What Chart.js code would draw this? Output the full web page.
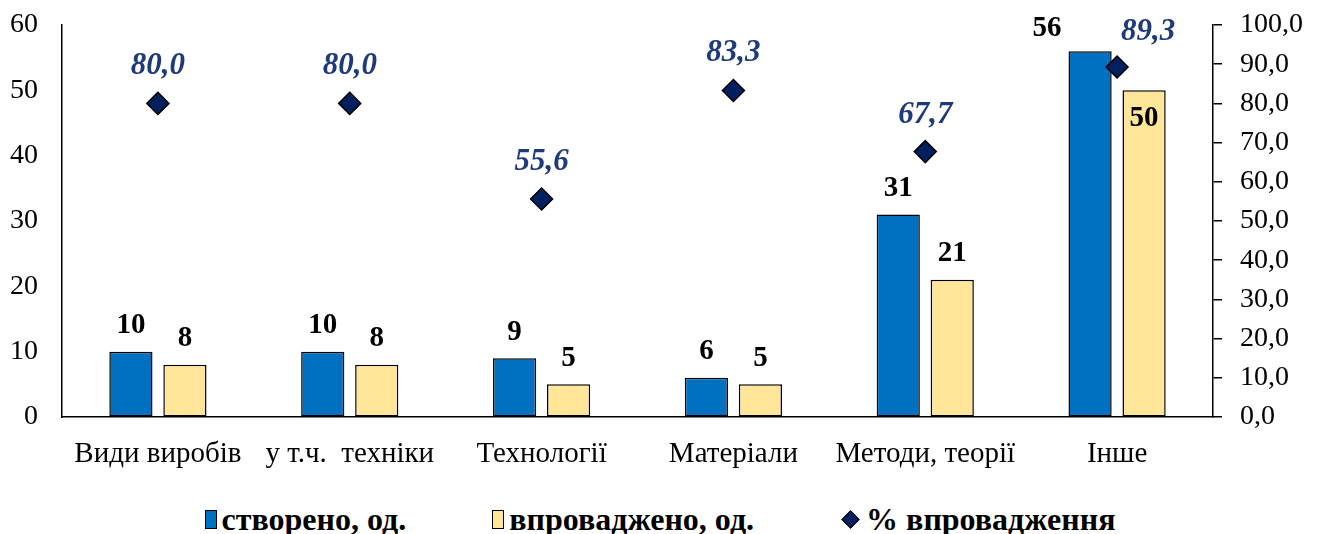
<!DOCTYPE html>
<html>
<head>
<meta charset="utf-8">
<script src="https://cdn.jsdelivr.net/npm/chart.js@4"></script>
<style>
  html, body { margin: 0; padding: 0; background: #fff; }
  #wrap { position: relative; width: 1320px; height: 490px; }
  #legend {
    width: 1320px; height: 44px; box-sizing: border-box; padding-top: 14px;
    display: flex; justify-content: center; align-items: center; gap: 86px;
    font: bold 32px "Liberation Serif", "Times New Roman", serif; color: #000;
  }
  #legend span.item { display: flex; align-items: center; }
  #legend i { display: inline-block; box-sizing: border-box; margin-right: 5px; }
  #legend i.box { width: 12px; height: 19px; border: 1.5px solid #000; }
  #legend i.dia { width: 13px; height: 13px; border: 1.5px solid #000; transform: rotate(45deg); margin: 0 9px 0 4px; }
</style>
</head>
<body>
<div id="wrap"><canvas id="chart" width="1320" height="490"></canvas></div>
<div id="legend"></div>
<script>
const CATEGORIES = ['Види виробів', 'у т.ч.  техніки', 'Технології', 'Матеріали', 'Методи, теорії', 'Інше'];
const CREATED = [10, 10, 9, 6, 31, 56];
const IMPLEMENTED = [8, 8, 5, 5, 21, 50];
const SHARE = [80.0, 80.0, 55.6, 83.3, 67.7, 89.3];
const LEFT_TICKS = [0, 60, 10];   // min, max, step
const RIGHT_TICKS = [0, 100, 10];

const SERIES_NAMES = ['створено, од.', 'впроваджено, од.', '% впровадження'];
const BLUE = '#0070C0', YELLOW = '#FFE699', NAVY = '#002060', LABEL_NAVY = '#1F3A7A';
const FONT = '"Liberation Serif", "Times New Roman", serif';

const fmtComma = v => Number(v).toFixed(1).replace('.', ',');

// Excel moved a few labels by hand in the last group so they don't collide.
const NUDGE = {
  0: {5: {dx: -43, dy: 3}},          // "56" pushed left
  1: {5: {dx: 0, dy: 54}},           // "50" sits inside the bar
  2: {5: {dx: 31, dy: 2}},           // "89,3" pushed right
};

const valueLabels = {
  id: 'valueLabels',
  afterDatasetsDraw(chart) {
    const ctx = chart.ctx;
    ctx.save();
    ctx.textAlign = 'center';
    ctx.textBaseline = 'middle';
    chart.data.datasets.forEach((ds, di) => {
      const meta = chart.getDatasetMeta(di);
      meta.data.forEach((el, i) => {
        const n = (NUDGE[di] && NUDGE[di][i]) || {dx: 0, dy: 0};
        if (ds.type === 'line') {
          ctx.font = `italic bold 31px ${FONT}`;
          ctx.fillStyle = LABEL_NAVY;
          ctx.fillText(fmtComma(ds.data[i]), el.x + n.dx, el.y - 37 + n.dy);
        } else {
          ctx.font = `bold 29px ${FONT}`;
          ctx.fillStyle = '#000';
          ctx.fillText(String(ds.data[i]), el.x + n.dx, el.y - 26 + n.dy);
        }
      });
    });
    ctx.restore();
  }
};

const tickFont = {family: FONT, size: 28};

// tick padding also pads the top of the chart area; drop that so the
// plot reaches up to layout.padding.top like Excel's does
function fitY(width) {
  return s => { s.width = width; s.paddingTop = 0; };
}

new Chart(document.getElementById('chart'), {
  type: 'bar',
  data: {
    labels: CATEGORIES,
    datasets: [
      {label: SERIES_NAMES[0], data: CREATED, backgroundColor: BLUE, borderColor: '#000',
       borderWidth: 1.5, borderSkipped: false, yAxisID: 'y', order: 1,
       categoryPercentage: 0.563, barPercentage: 0.8},
      {label: SERIES_NAMES[1], data: IMPLEMENTED, backgroundColor: YELLOW, borderColor: '#000',
       borderWidth: 1.5, borderSkipped: false, yAxisID: 'y', order: 1,
       categoryPercentage: 0.563, barPercentage: 0.8},
      {type: 'line', label: SERIES_NAMES[2], data: SHARE, yAxisID: 'y1', order: 0,
       showLine: false, pointStyle: 'rectRot', pointRadius: 11, pointHoverRadius: 11,
       backgroundColor: NAVY, borderColor: '#000', borderWidth: 1.5},
    ]
  },
  options: {
    responsive: false,
    animation: false,
    layout: {padding: {top: 25, left: 0, right: 0, bottom: 0}},
    plugins: {legend: {display: false}, tooltip: {enabled: false}},
    scales: {
      x: {
        grid: {display: false},
        border: {display: true, color: '#000', width: 1.5},
        ticks: {font: {family: FONT, size: 29}, color: '#000', padding: 12, maxRotation: 0},
        afterFit: s => { s.height = 73; },
      },
      y: {
        position: 'left',
        min: LEFT_TICKS[0], max: LEFT_TICKS[1],
        ticks: {stepSize: LEFT_TICKS[2], font: tickFont, color: '#000', padding: 24},
        grid: {drawOnChartArea: false, drawTicks: false},
        border: {display: true, color: '#000', width: 1.5},
        afterFit: fitY(62),
      },
      y1: {
        position: 'right',
        min: RIGHT_TICKS[0], max: RIGHT_TICKS[1],
        ticks: {stepSize: RIGHT_TICKS[2], font: tickFont, color: '#000', padding: 18,
                callback: v => fmtComma(v)},
        grid: {drawOnChartArea: false, drawTicks: true, tickLength: 9, color: '#000', lineWidth: 1.5},
        border: {display: true, color: '#000', width: 1.5},
        afterFit: fitY(107),
      },
    }
  },
  plugins: [valueLabels],
});

// legend built from the same series names / colours
const legend = document.getElementById('legend');
legend.innerHTML = [
  `<span class="item"><i class="box" style="background:${BLUE}"></i>${SERIES_NAMES[0]}</span>`,
  `<span class="item"><i class="box" style="background:${YELLOW}"></i>${SERIES_NAMES[1]}</span>`,
  `<span class="item"><i class="dia" style="background:${NAVY}"></i>${SERIES_NAMES[2]}</span>`,
].join('');
</script>
</body>
</html>
